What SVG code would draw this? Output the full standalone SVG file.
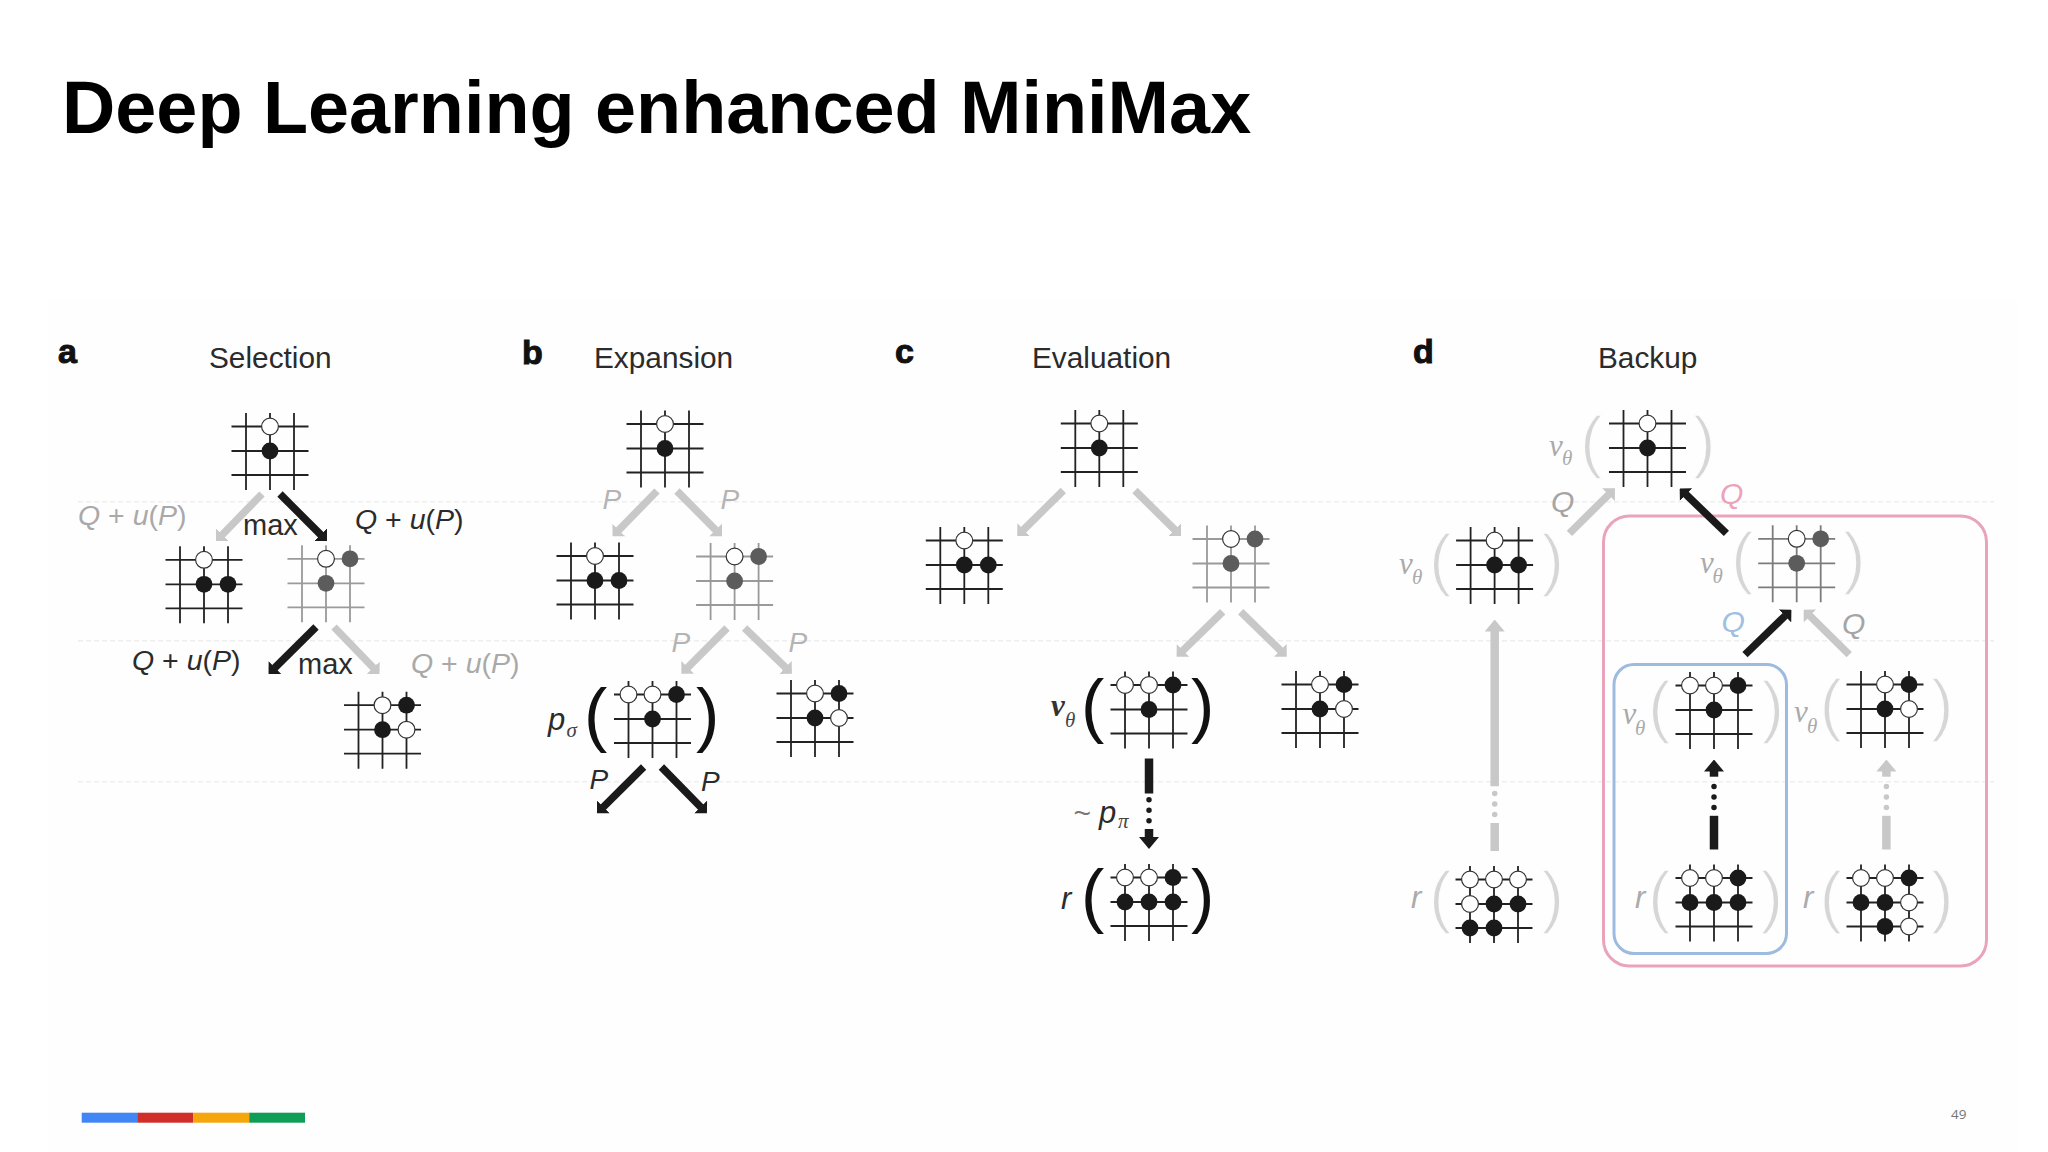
<svg xmlns="http://www.w3.org/2000/svg" width="2048" height="1152" viewBox="0 0 2048 1152">
<style>
text{font-family:"Liberation Sans",Arial,sans-serif}
.title{font-size:73.8px;font-weight:700;fill:#000}
.head{font-size:29.8px;fill:#2b2b2b}
.let{font-size:34px;font-weight:700;fill:#111;stroke:#111;stroke-width:1}
.expr{font-size:28.5px;fill:#2b2b2b}
.expr.lt{fill:#a9a9a9}
.i{font-style:italic}
.mx{font-size:29px;fill:#2b2b2b}
.p{font-size:28px;font-style:italic;fill:#2b2b2b}
.p.lt{fill:#b4b4b4}
.q{font-size:30px;font-style:italic}
.sym{font-size:31px;font-style:italic;fill:#2b2b2b}
.sub{font-family:"Liberation Serif",serif;font-size:21px;font-style:italic;fill:#444}
.nu{font-family:"Liberation Serif",serif;font-size:31px;font-style:italic;font-weight:700;fill:#333}
.nu.lt{font-weight:400;fill:#aaa}
.sub.lt{fill:#aaa}
.sym.lt{fill:#aaa}
.par{font-size:70px;fill:#111}
.par.lt{font-size:68px;fill:#d6d6d6;stroke:#fdfdfd;stroke-width:1.6}
.grid{stroke:#222;stroke-width:1.8;fill:none}
.grid.f{stroke:#9a9a9a}
.grid.m{stroke:#7c7c7c}
.ln{fill:none;stroke-width:7.5}
.k{stroke:#1a1a1a}
.g{stroke:#c8c8c8}
.gh{marker-end:url(#hg)}
.kh{marker-end:url(#hk)}
.gv{marker-end:url(#vg)}
.kv{marker-end:url(#vk)}
.bar{stroke-width:8.5;fill:none}
.dots{stroke-width:5.5;stroke-linecap:round;stroke-dasharray:0 10.5;fill:none}
.guide{stroke:#eeeeee;stroke-width:1.5;stroke-dasharray:5 3;fill:none}
</style>
<defs>
<marker id="hk" markerUnits="userSpaceOnUse" viewBox="0 -9 9 18" markerWidth="9" markerHeight="18" refX=".5" refY="0" orient="auto"><path d="M0-9 9 0 0 9z" fill="#1a1a1a"/></marker>
<marker id="hg" markerUnits="userSpaceOnUse" viewBox="0 -9 9 18" markerWidth="9" markerHeight="18" refX=".5" refY="0" orient="auto"><path d="M0-9 9 0 0 9z" fill="#c8c8c8"/></marker>
<marker id="vk" markerUnits="userSpaceOnUse" viewBox="0 -10 12 20" markerWidth="12" markerHeight="20" refX=".5" refY="0" orient="auto"><path d="M0-10 12 0 0 10z" fill="#1a1a1a"/></marker>
<marker id="vg" markerUnits="userSpaceOnUse" viewBox="0 -10 12 20" markerWidth="12" markerHeight="20" refX=".5" refY="0" orient="auto"><path d="M0-10 12 0 0 10z" fill="#c8c8c8"/></marker>
<path id="gd" d="M-24-38V39M0-38V39M24-38V39M-38.5-24.5H38.5M-38.5 0H38.5M-38.5 24H38.5"/>
<circle id="w" r="8.4" fill="#fff" stroke="#333" stroke-width="1.2"/>
<circle id="b" r="8.4" fill="#1a1a1a"/>
<circle id="s" r="8.4" fill="#5c5c5c"/>
</defs>
<rect width="2048" height="1152" fill="#fff"/>
<rect x="48" y="300" width="1970" height="852" fill="#fefefe"/>
<text class="title" x="62" y="133">Deep Learning enhanced MiniMax</text>
<g id="guides">
<path class="guide" d="M78 501.7H1994M78 640.7H1994M78 781.7H1994"/>
</g>
<g id="panel-heads">
<text class="let" x="58" y="363">a</text><text class="head" x="209" y="368">Selection</text>
<text class="let" x="522" y="364">b</text><text class="head" x="594" y="368">Expansion</text>
<text class="let" x="895" y="363">c</text><text class="head" x="1032" y="368">Evaluation</text>
<text class="let" x="1413" y="363">d</text><text class="head" x="1598" y="368">Backup</text>
</g>
<g id="regions">
<rect id="region-q" x="1603.5" y="516" width="383" height="450" rx="26" fill="none" stroke="#e9a3bb" stroke-width="3"/>
<rect id="region-leaf" x="1614" y="664.5" width="172.5" height="289" rx="20" fill="none" stroke="#9dbbdf" stroke-width="3"/>
</g>
<g id="connectors">
<path class="ln g gh" d="M262 494 222 535"/>
<path class="ln k kh" d="M280 494 321 535"/>
<path class="ln k kh" d="M316 627 274.6 668"/>
<path class="ln g gh" d="M334 627 373.6 668"/>
<path class="ln g gh" d="M657 491 618.5 530.3"/>
<path class="ln g gh" d="M677 491 716 530.3"/>
<path class="ln g gh" d="M727 628 687.4 667.8"/>
<path class="ln g gh" d="M744.6 628 785.8 667.8"/>
<path class="ln k kh" d="M643.6 767 603 807.3"/>
<path class="ln k kh" d="M661.4 767 701 807.3"/>
<path class="ln g gh" d="M1063.3 490.5 1023.3 530"/>
<path class="ln g gh" d="M1135 490.5 1175 530"/>
<path class="ln g gh" d="M1222.7 611.7 1182.7 650.7"/>
<path class="ln g gh" d="M1240.7 611.7 1280.7 650.7"/>
<path class="bar k" d="M1149 758.5V793.5"/><path class="dots k" d="M1149 799.8V821.1"/><path class="bar k kv" d="M1149 829V837.5"/>
<path class="ln g gh" d="M1569.4 533.4 1608.9 494.3"/>
<path class="ln k kh" d="M1726.4 533.4 1685.8 494.3"/>
<path class="ln k kh" d="M1745 654.6 1785.3 615.6"/>
<path class="ln g gh" d="M1849.2 654.6 1809.7 615.6"/>
<path class="bar g" d="M1494.7 851V823"/><path class="dots g" d="M1494.7 814.5V793.2"/><path class="bar g gv" d="M1494.7 786.3V631"/>
<path class="bar k" d="M1714 849.5V815.8"/><path class="dots k" d="M1714 807.4V786.1"/><path class="bar k kv" d="M1714 776.7V771"/>
<path class="bar g" d="M1886.4 849.5V815.8"/><path class="dots g" d="M1886.4 807.4V786.1"/><path class="bar g gv" d="M1886.4 776.7V771"/>
</g>
<g id="connector-labels">
<text class="expr lt" x="78" y="525"><tspan class="i">Q</tspan> + <tspan class="i">u</tspan>(<tspan class="i">P</tspan>)</text>
<text class="expr" x="355" y="529"><tspan class="i">Q</tspan> + <tspan class="i">u</tspan>(<tspan class="i">P</tspan>)</text>
<text class="expr" x="132" y="670"><tspan class="i">Q</tspan> + <tspan class="i">u</tspan>(<tspan class="i">P</tspan>)</text>
<text class="expr lt" x="411" y="672.7"><tspan class="i">Q</tspan> + <tspan class="i">u</tspan>(<tspan class="i">P</tspan>)</text>
<text class="mx" x="243" y="535">max</text>
<text class="mx" x="298" y="674">max</text>
<text class="p lt" x="602.5" y="508.8">P</text>
<text class="p lt" x="720.5" y="508.8">P</text>
<text class="p lt" x="671.5" y="652.4">P</text>
<text class="p lt" x="788.5" y="652.4">P</text>
<text class="p" x="589.5" y="788.5">P</text>
<text class="p" x="701" y="791">P</text>
<text class="q" x="1551" y="511.5" fill="#a5a5a5">Q</text>
<text class="q" x="1720" y="504" fill="#eba3bc">Q</text>
<text class="q" x="1721.5" y="631.5" fill="#a0bfe2">Q</text>
<text class="q" x="1842" y="633.5" fill="#a5a5a5">Q</text>
<text x="1073.5" y="823" font-size="30" fill="#777">~</text>
<text class="sym" x="1099" y="823">p</text><text class="sub" x="1118" y="828.4">π</text>
</g>
<g id="node-a1" transform="translate(270 451)"><use href="#gd" class="grid"/><use href="#w" y="-24.5"/><use href="#b"/></g>
<g id="node-a2" transform="translate(204 584.3)"><use href="#gd" class="grid"/><use href="#w" y="-24.5"/><use href="#b"/><use href="#b" x="24"/></g>
<g id="node-a3" transform="translate(326 583.3)"><use href="#gd" class="grid f"/><use href="#w" y="-24.5"/><use href="#s" x="24" y="-24.5"/><use href="#s"/></g>
<g id="node-a4" transform="translate(382.5 729.7)"><use href="#gd" class="grid"/><use href="#w" y="-24.5"/><use href="#b" x="24" y="-24.5"/><use href="#b"/><use href="#w" x="24"/></g>
<g id="node-b1" transform="translate(665 448.5)"><use href="#gd" class="grid"/><use href="#w" y="-24.5"/><use href="#b"/></g>
<g id="node-b2" transform="translate(595 580.5)"><use href="#gd" class="grid"/><use href="#w" y="-24.5"/><use href="#b"/><use href="#b" x="24"/></g>
<g id="node-b3" transform="translate(734.6 581)"><use href="#gd" class="grid f"/><use href="#w" y="-24.5"/><use href="#s" x="24" y="-24.5"/><use href="#s"/></g>
<g id="node-b4"><g transform="translate(652.5 719)"><use href="#gd" class="grid"/><use href="#w" x="-24" y="-24.5"/><use href="#w" y="-24.5"/><use href="#b" x="24" y="-24.5"/><use href="#b"/></g>
<text class="sym" x="548" y="730">p</text><text class="sub" x="566.5" y="736.8">σ</text>
<text class="par" x="584" y="738">(</text><text class="par" x="696" y="738">)</text></g>
<g id="node-b5" transform="translate(815 718)"><use href="#gd" class="grid"/><use href="#w" y="-24.5"/><use href="#b" x="24" y="-24.5"/><use href="#b"/><use href="#w" x="24"/></g>
<g id="node-c1" transform="translate(1099.3 448)"><use href="#gd" class="grid"/><use href="#w" y="-24.5"/><use href="#b"/></g>
<g id="node-c2" transform="translate(964.3 565)"><use href="#gd" class="grid"/><use href="#w" y="-24.5"/><use href="#b"/><use href="#b" x="24"/></g>
<g id="node-c3" transform="translate(1231 563.5)"><use href="#gd" class="grid f"/><use href="#w" y="-24.5"/><use href="#s" x="24" y="-24.5"/><use href="#s"/></g>
<g id="node-c4"><g transform="translate(1149 709.5)"><use href="#gd" class="grid"/><use href="#w" x="-24" y="-24.5"/><use href="#w" y="-24.5"/><use href="#b" x="24" y="-24.5"/><use href="#b"/></g>
<text class="nu" x="1051" y="715.6">ν</text><text class="sub" x="1065" y="727.4">θ</text>
<text class="par" x="1081" y="729">(</text><text class="par" x="1191" y="729">)</text></g>
<g id="node-c5" transform="translate(1320 709)"><use href="#gd" class="grid"/><use href="#w" y="-24.5"/><use href="#b" x="24" y="-24.5"/><use href="#b"/><use href="#w" x="24"/></g>
<g id="node-c6"><g transform="translate(1149 902)"><use href="#gd" class="grid"/><use href="#w" x="-24" y="-24.5"/><use href="#w" y="-24.5"/><use href="#b" x="24" y="-24.5"/><use href="#b" x="-24"/><use href="#b"/><use href="#b" x="24"/></g>
<text class="sym" x="1061" y="909">r</text>
<text class="par" x="1081" y="919">(</text><text class="par" x="1191" y="919">)</text></g>
<g id="node-d1"><g transform="translate(1647.5 448)"><use href="#gd" class="grid"/><use href="#w" y="-24.5"/><use href="#b"/></g>
<text class="nu lt" x="1549" y="455.5">ν</text><text class="sub lt" x="1562" y="465">θ</text>
<text class="par lt" x="1580" y="465">(</text><text class="par lt" x="1693" y="465">)</text></g>
<g id="node-d2"><g transform="translate(1494.6 565)"><use href="#gd" class="grid"/><use href="#w" y="-24.5"/><use href="#b"/><use href="#b" x="24"/></g>
<text class="nu lt" x="1399" y="573.8">ν</text><text class="sub lt" x="1412" y="584.3">θ</text>
<text class="par lt" x="1429" y="583">(</text><text class="par lt" x="1541.5" y="583">)</text></g>
<g id="node-d3"><g transform="translate(1796.7 563.3)"><use href="#gd" class="grid m"/><use href="#w" y="-24.5"/><use href="#s" x="24" y="-24.5"/><use href="#s"/></g>
<text class="nu lt" x="1700" y="572.5">ν</text><text class="sub lt" x="1712.5" y="583">θ</text>
<text class="par lt" x="1731" y="580.5">(</text><text class="par lt" x="1843" y="580.5">)</text></g>
<g id="node-d4"><g transform="translate(1714 710)"><use href="#gd" class="grid"/><use href="#w" x="-24" y="-24.5"/><use href="#w" y="-24.5"/><use href="#b" x="24" y="-24.5"/><use href="#b"/></g>
<text class="nu lt" x="1622.5" y="724">ν</text><text class="sub lt" x="1635" y="734.6">θ</text>
<text class="par lt" x="1648" y="730">(</text><text class="par lt" x="1761.5" y="730">)</text></g>
<g id="node-d5"><g transform="translate(1885 709)"><use href="#gd" class="grid"/><use href="#w" y="-24.5"/><use href="#b" x="24" y="-24.5"/><use href="#b"/><use href="#w" x="24"/></g>
<text class="nu lt" x="1794" y="722">ν</text><text class="sub lt" x="1807" y="733.3">θ</text>
<text class="par lt" x="1819.5" y="728">(</text><text class="par lt" x="1931" y="728">)</text></g>
<g id="node-d6"><g transform="translate(1494 904)"><use href="#gd" class="grid"/><use href="#w" x="-24" y="-24.5"/><use href="#w" y="-24.5"/><use href="#w" x="24" y="-24.5"/><use href="#w" x="-24"/><use href="#b"/><use href="#b" x="24"/><use href="#b" x="-24" y="24"/><use href="#b" y="24"/></g>
<text class="sym lt" x="1411" y="908">r</text>
<text class="par lt" x="1429" y="920">(</text><text class="par lt" x="1541.5" y="920">)</text></g>
<g id="node-d7"><g transform="translate(1714 902.5)"><use href="#gd" class="grid"/><use href="#w" x="-24" y="-24.5"/><use href="#w" y="-24.5"/><use href="#b" x="24" y="-24.5"/><use href="#b" x="-24"/><use href="#b"/><use href="#b" x="24"/></g>
<text class="sym lt" x="1635" y="908">r</text>
<text class="par lt" x="1648" y="920">(</text><text class="par lt" x="1760.5" y="920">)</text></g>
<g id="node-d8"><g transform="translate(1885 902.5)"><use href="#gd" class="grid"/><use href="#w" x="-24" y="-24.5"/><use href="#w" y="-24.5"/><use href="#b" x="24" y="-24.5"/><use href="#b" x="-24"/><use href="#b"/><use href="#w" x="24"/><use href="#b" y="24"/><use href="#w" x="24" y="24"/></g>
<text class="sym lt" x="1803" y="908">r</text>
<text class="par lt" x="1819.5" y="920">(</text><text class="par lt" x="1931" y="920">)</text></g>
<g id="footer">
<rect x="81.7" y="1112.7" width="55.5" height="10" fill="#4285f4"/>
<rect x="137.2" y="1112.7" width="56" height="10" fill="#cf2e2a"/>
<rect x="193.2" y="1112.7" width="56" height="10" fill="#f4a60c"/>
<rect x="249.2" y="1112.7" width="55.8" height="10" fill="#0f9d58"/>
<text x="1951" y="1119.3" font-size="13.5" style="font-family:'Open Sans',sans-serif" fill="#757575">49</text>
</g>
</svg>
